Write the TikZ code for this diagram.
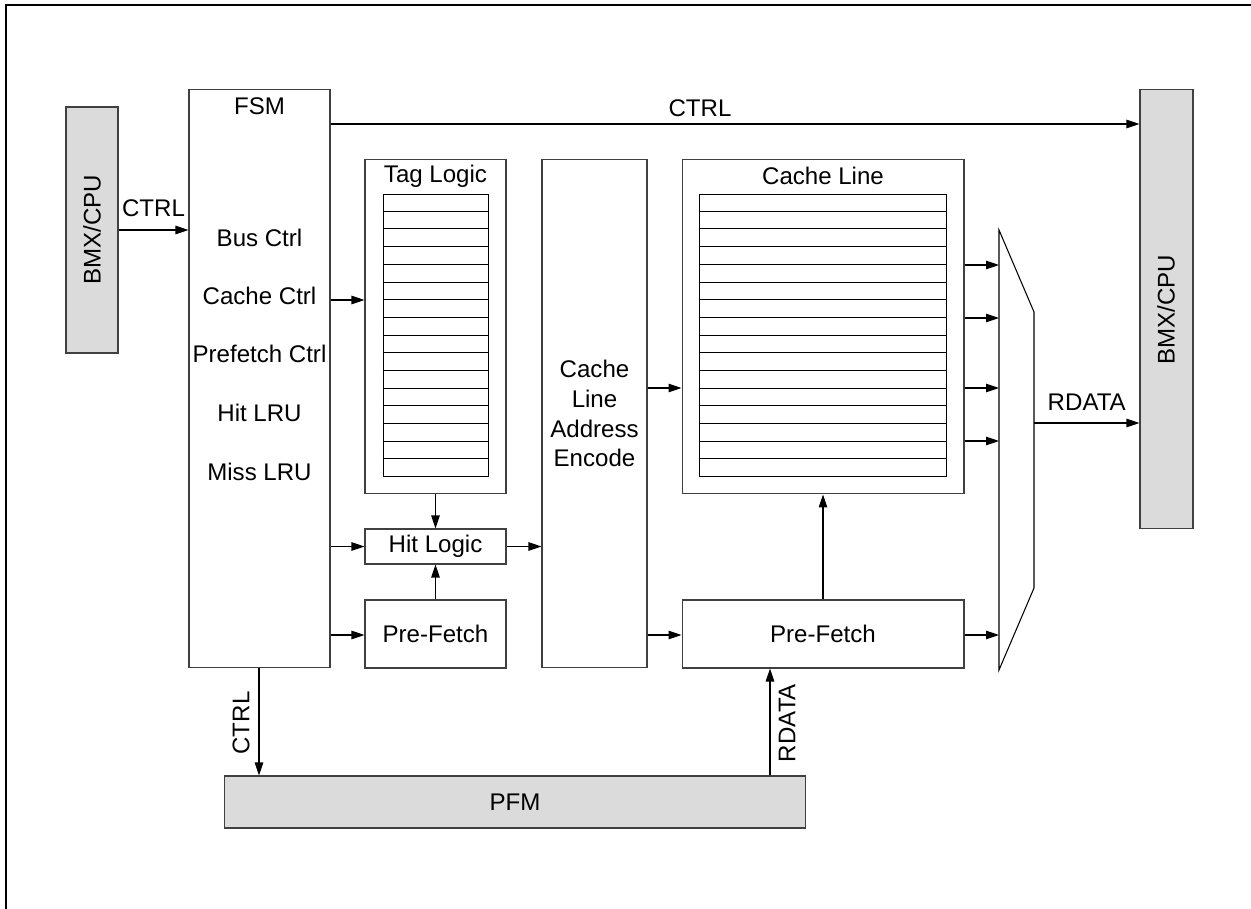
\documentclass[tikz,border=0pt]{standalone}
\usepackage{fontspec}
\setmainfont{Liberation Sans}
\usepackage{tikz}
\usetikzlibrary{arrows.meta, positioning, calc}

\begin{document}
\begin{tikzpicture}[x=0.02cm,y=-0.02cm,
          font=\fontsize{13.7}{17}\selectfont,
          blk/.style={draw=black!75,line width=0.6pt,inner sep=0pt},
          extbox/.style={blk,fill=black!14},
          tbl/.style={draw=black,line width=0.55pt},
          arr/.style={-{Triangle[length=0.26cm,width=0.17cm]},line width=0.6pt},
          lbl/.style={inner sep=0pt}]
        \useasboundingbox (0,0) rectangle (1251,909);
        \draw[line width=1.7pt] (6,909) |- (1251,5);
        % outside blocks
        \node[extbox,minimum width=1.04cm,minimum height=4.92cm] (bmxin) at (92,230) {};
        \node[lbl,rotate=90] (bmxinlbl) at (bmxin) {BMX/CPU};
        \node[extbox,minimum width=1.06cm,minimum height=8.80cm] (bmxout) at (1166.5,309) {};
        \node[lbl,rotate=90] (bmxoutlbl) at (1166,310) {BMX/CPU};
        \node[extbox,minimum width=11.64cm,minimum height=1.04cm] (pfm) at (515,802) {PFM};
        % controller
        \node[blk,minimum width=2.82cm,minimum height=11.58cm] (fsm) at (259.5,378.5) {};
        \node[lbl] (fsmlbl) at (259.5,106) {FSM};
        \node[lbl] (busctrl) at (259.5,238) {Bus Ctrl};
        \node[lbl] (cachectrl) at (259.5,296) {Cache Ctrl};
        \node[lbl] (pfctrl) at (259.5,354) {Prefetch Ctrl};
        \node[lbl] (hitlru) at (259.5,413) {Hit LRU};
        \node[lbl] (misslru) at (259.5,472) {Miss LRU};
        % tag logic
        \node[blk,minimum width=2.82cm,minimum height=6.70cm] (tag) at (435.5,326.5) {};
        \node[lbl] (taglbl) at (435.5,176) {Tag Logic};
        \node[tbl,inner sep=0pt,minimum width=2.10cm,minimum height=5.66cm] (tagtab) at (435.5,335.5) {};
        \foreach \i in {1,...,15}
          \draw[tbl] ($(tagtab.north west)+(0,\i*17.69)$) -- ($(tagtab.north east)+(0,\i*17.69)$);
        \node[blk,minimum width=2.82cm,minimum height=0.70cm] (hit) at (435.5,546.5) {Hit Logic};
        \node[blk,minimum width=2.82cm,minimum height=1.36cm] (pfa) at (435.5,634) {Pre-Fetch};
        % encoder
        \node[blk,align=center,minimum width=2.10cm,minimum height=10.18cm] (enc) at (594.5,413.5)
          {Cache\\Line\\Address\\Encode};
        % cache line
        \node[blk,minimum width=5.64cm,minimum height=6.70cm] (cline) at (823,326.5) {};
        \node[lbl] (clinelbl) at (823,176) {Cache Line};
        \node[tbl,inner sep=0pt,minimum width=4.94cm,minimum height=5.66cm] (cltab) at (822.5,335.5) {};
        \foreach \i in {1,...,15}
          \draw[tbl] ($(cltab.north west)+(0,\i*17.69)$) -- ($(cltab.north east)+(0,\i*17.69)$);
        \node[blk,minimum width=5.64cm,minimum height=1.36cm] (pfb) at (823,634) {Pre-Fetch};
        % mux
        \draw[line width=0.6pt] (999,230) -- (1034,312) -- (1034,588) -- (999,670) -- cycle;
        \coordinate (muxin) at (999,450);
        \coordinate (muxout) at (1034,423);
        % connectors
        \draw[arr] (bmxin.east |- 0,230) -- node[lbl,above=7pt] (ctrlin) {CTRL} (fsm.west |- 0,230);
        \draw[arr] (fsm.east |- 0,124) -- (bmxout.west |- 0,124);
        \node[lbl] (ctrltop) at (700,108) {CTRL};
        \draw[arr] (fsm.east |- 0,300) -- (tag.west |- 0,300);
        \draw[arr] (fsm.east |- hit) -- (hit);
        \draw[arr] (fsm.east |- 0,635) -- (pfa.west |- 0,635);
        \draw[arr] (tag.south) -- (hit.north);
        \draw[arr] (pfa.north) -- (hit.south);
        \draw[arr] (hit) -- (enc.west |- hit);
        \draw[arr] (enc.east |- 0,388) -- (cline.west |- 0,388);
        \draw[arr] (enc.east |- 0,635) -- (pfb.west |- 0,635);
        \draw[arr] (pfb.north) -- (cline.south);
        \foreach \y in {265,318,388,441}
          \draw[arr] (cline.east |- 0,\y) -- (muxin |- 0,\y);
        \draw[arr] (pfb.east |- 0,635) -- (muxin |- 0,635);
        \draw[arr] (muxout) -- node[lbl,above=7pt] (rdataout) {RDATA} (bmxout.west |- muxout);
        \draw[arr] (fsm.south -| 259,0) -- (pfm.north -| 259,0);
        \node[lbl,rotate=90] (ctrldown) at (241,723) {CTRL};
        \draw[arr] (pfm.north -| 770,0) -- (pfb.south -| 770,0);
        \node[lbl,rotate=90] (rdataup) at (787,723) {RDATA};
      \end{tikzpicture}
\end{document}
